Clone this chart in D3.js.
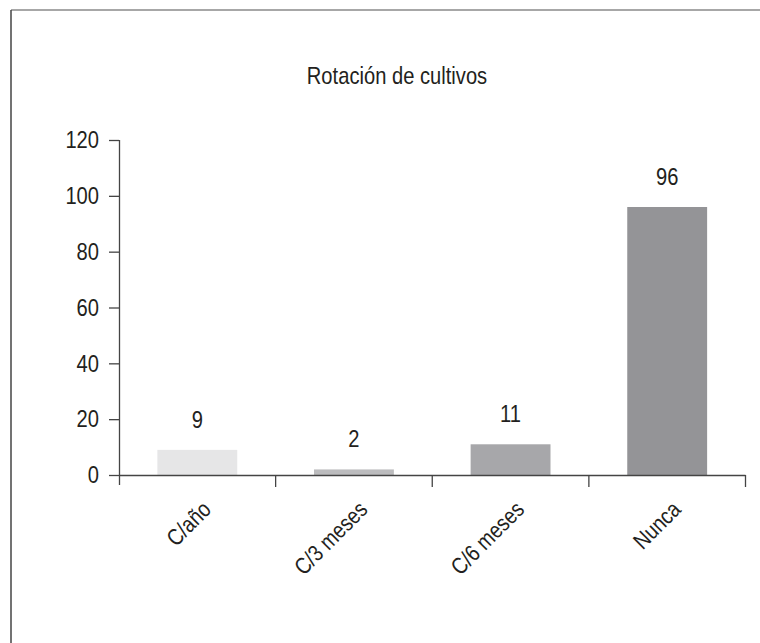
<!DOCTYPE html>
<html>
<head>
<meta charset="utf-8">
<script src="https://cdn.jsdelivr.net/npm/d3@7"></script>
<style>
html,body{margin:0;padding:0;background:#fff;}
text{font-family:"Liberation Sans",Arial,sans-serif;fill:#231f20;}
</style>
</head>
<body>
<script>
const categories = ["C/año", "C/3 meses", "C/6 meses", "Nunca"];
const values = [9, 2, 11, 96];
const barColors = ["#e6e6e7", "#bcbcbe", "#a7a7aa", "#949497"];
const yTicks = [0, 20, 40, 60, 80, 100, 120];
const title = "Rotación de cultivos";

const W = 760, H = 643;
const SX = 0.84; // condensed look
const svg = d3.select("body").append("svg").attr("width", W).attr("height", H);

// frame
svg.append("line").attr("x1", 11).attr("x2", W).attr("y1", 10).attr("y2", 10)
  .attr("stroke", "#8a8a8a").attr("stroke-width", 1.5);
svg.append("line").attr("x1", 11).attr("x2", 11).attr("y1", 10).attr("y2", H)
  .attr("stroke", "#444").attr("stroke-width", 1.5);

const x0 = 119, x1 = 745.5, yTop = 140, yBot = 475;
const x = d3.scaleBand().domain(categories).range([x0, x1]).paddingInner(0.49).paddingOuter(0.245);
const xb = d3.scaleBand().domain(categories).range([x0, x1]);
const y = d3.scaleLinear().domain([0, 120]).range([yBot, yTop]);

svg.append("text").attr("transform", `translate(397,84) scale(${SX},1)`)
  .attr("text-anchor", "middle").attr("font-size", 24).text(title);

// bars
svg.selectAll("rect.bar").data(values).enter().append("rect")
  .attr("x", (d, i) => x(categories[i]))
  .attr("width", x.bandwidth())
  .attr("y", d => y(d))
  .attr("height", d => yBot - y(d))
  .attr("fill", (d, i) => barColors[i]);

// value labels
svg.selectAll("text.val").data(values).enter().append("text")
  .attr("transform", (d, i) => `translate(${x(categories[i]) + x.bandwidth() / 2},${y(d) - 22}) scale(${SX},1)`)
  .attr("text-anchor", "middle").attr("font-size", 24)
  .text(d => d);

// y axis
const yAxis = d3.axisLeft(y).tickValues(yTicks).tickSize(10).tickSizeOuter(0).tickPadding(10);
const gy = svg.append("g").attr("transform", `translate(${x0},0)`).call(yAxis);
gy.attr("font-family", '"Liberation Sans",Arial,sans-serif').attr("font-size", 24);
gy.selectAll("path,line").attr("stroke", "#444").attr("stroke-width", 1.3);
gy.selectAll(".tick text").attr("fill", "#231f20")
  .attr("x", -20 / SX).attr("transform", `scale(${SX},1)`);
gy.select(".domain").attr("d", `M0.5,${yTop}V${yBot + 10}`);

// x axis line and boundary ticks
const boundaries = categories.map(c => xb(c)).concat([x1]);
svg.append("line").attr("x1", x0).attr("x2", x1).attr("y1", yBot + 0.5).attr("y2", yBot + 0.5)
  .attr("stroke", "#444").attr("stroke-width", 1.3);
svg.selectAll("line.xt").data(boundaries.slice(1)).enter().append("line")
  .attr("x1", d => d).attr("x2", d => d).attr("y1", yBot).attr("y2", yBot + 12)
  .attr("stroke", "#444").attr("stroke-width", 1.3);

// category labels
svg.selectAll("text.cat").data(categories).enter().append("text")
  .attr("text-anchor", "end").attr("font-size", 23)
  .attr("transform", c => `translate(${xb(c) + xb.bandwidth() / 2 + 15},${yBot + 36}) rotate(-45) scale(${SX},1)`)
  .text(c => c);
</script>
</body>
</html>
